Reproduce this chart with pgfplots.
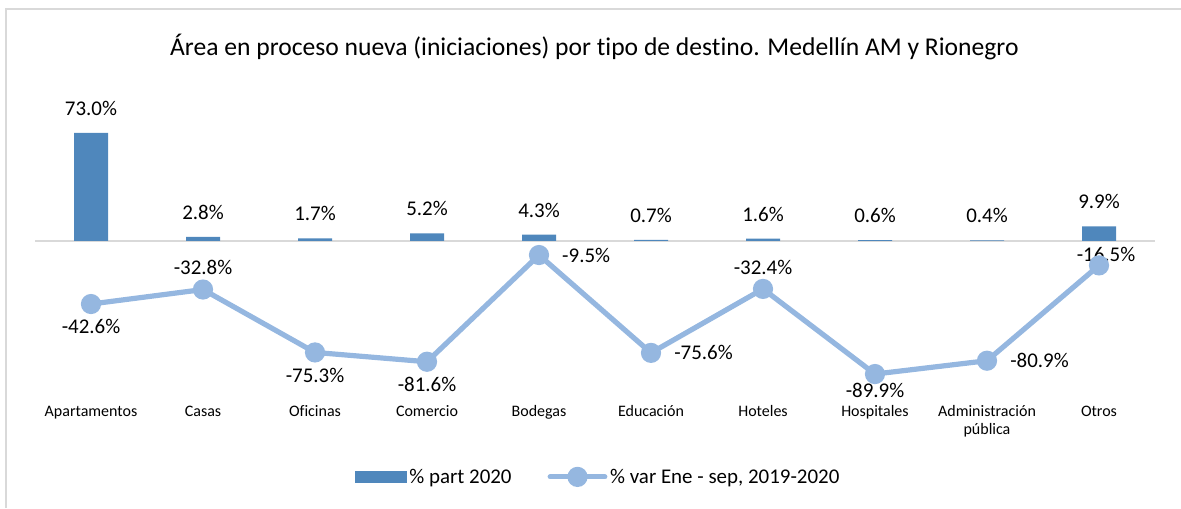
\documentclass[border=0pt]{standalone}
\usepackage{pgfplots}
\pgfplotsset{compat=1.18}
\usepackage{fontspec}
\setmainfont{Carlito}[Ligatures=NoCommon]
\definecolor{barblue}{RGB}{79,135,188}
\definecolor{lineblue}{RGB}{149,183,224}
\definecolor{framegray}{RGB}{217,217,217}
\newcommand{\lblfont}{\fontsize{15.7}{18}\selectfont}
\begin{document}
\begin{tikzpicture}
\path[use as bounding box] (0,0) rectangle (885.75pt,-381pt);
\draw[framegray, line width=0.9pt] (4.5pt,-381pt) -- (4.5pt,-6.75pt) -- (885.75pt,-6.75pt);
\node[anchor=base, font=\fontsize{19.2}{22}\selectfont, inner sep=0pt] at (445.8pt,-41.25pt) {Área en proceso nueva (iniciaciones) por tipo de destino. Medellín AM y Rionegro};
\begin{axis}[
  at={(26.25pt,-298.4pt)}, anchor=south west,
  scale only axis, width=840pt, height=206.5pt,
  xmin=-0.5, xmax=9.5, ymin=-106, ymax=80,
  hide y axis,
  axis x line*=bottom,
  x axis line style={draw=none},
  xtick={0,...,9},
  xticklabels={Apartamentos, Casas, Oficinas, Comercio, Bodegas, Educación, Hoteles, Hospitales, {\begin{tabular}[t]{@{}c@{}}Administración\\[-1.5pt]pública\end{tabular}}, Otros},
  major tick length=0pt,
  xticklabel style={font=\fontsize{12}{15}\selectfont, anchor=north, inner sep=0pt, text height=9pt, yshift=-4.5pt},
  clip=false,
  legend columns=2,
  legend style={draw=none, fill=none, font=\lblfont, at={(axis description cs:0.503,-0.287)}, anchor=center,
    /tikz/every even column/.append style={column sep=25pt}},
]
\draw[framegray, line width=0.9pt] (axis cs:-0.5,0) -- (axis cs:9.5,0);
\addplot[ybar, bar width=25.5pt, bar shift=0pt, fill=barblue, draw=none,
  point meta=explicit symbolic,
  nodes near coords={\pgfplotspointmeta},
  every node near coord/.append style={font=\lblfont, anchor=south, yshift=9.5pt, text=black},
  legend image code/.code={\fill[barblue] (0pt,-4.4pt) rectangle (39pt,4.4pt);}]
coordinates {
(0,73.0) [73.0\%]
(1,2.8) [2.8\%]
(2,1.7) [1.7\%]
(3,5.2) [5.2\%]
(4,4.3) [4.3\%]
(5,0.7) [0.7\%]
(6,1.6) [1.6\%]
(7,0.6) [0.6\%]
(8,0.4) [0.4\%]
(9,9.9) [9.9\%]
};
\addlegendentry{\% part 2020}
\addplot[lineblue, line width=3.9pt, mark=*, mark size=5.6pt, mark options={draw=none, fill=lineblue},
  legend image code/.code={\draw[lineblue, line width=3.9pt, line cap=round] (0pt,0pt) -- (41pt,0pt);
     \fill[lineblue] (20.5pt,0pt) circle (5.6pt);}]
coordinates {
(0,-42.6) (1,-32.8) (2,-75.3) (3,-81.6) (4,-9.5) (5,-75.6) (6,-32.4) (7,-89.9) (8,-80.9) (9,-16.5)
};
\addlegendentry{\% var Ene - sep, 2019-2020}
\begin{scope}[every node/.style={font=\lblfont}]
\node[anchor=north, yshift=-8pt] at (axis cs:0,-42.6) {-42.6\%};
\node[anchor=south, yshift=7.4pt] at (axis cs:1,-32.8) {-32.8\%};
\node[anchor=north, yshift=-8pt] at (axis cs:2,-75.3) {-75.3\%};
\node[anchor=north, yshift=-8pt] at (axis cs:3,-81.6) {-81.6\%};
\node[anchor=west, xshift=13.9pt] at (axis cs:4,-9.5) {-9.5\%};
\node[anchor=west, xshift=13.9pt] at (axis cs:5,-75.6) {-75.6\%};
\node[anchor=south, yshift=7.4pt] at (axis cs:6,-32.4) {-32.4\%};
\node[anchor=north, yshift=-5.8pt, inner ysep=1pt] at (axis cs:7,-89.9) {-89.9\%};
\node[anchor=west, xshift=13.9pt] at (axis cs:8,-80.9) {-80.9\%};
\node[anchor=center, xshift=5.25pt, yshift=8.25pt] at (axis cs:9,-16.5) {-16.5\%};
\end{scope}
\end{axis}
\end{tikzpicture}
\end{document}
